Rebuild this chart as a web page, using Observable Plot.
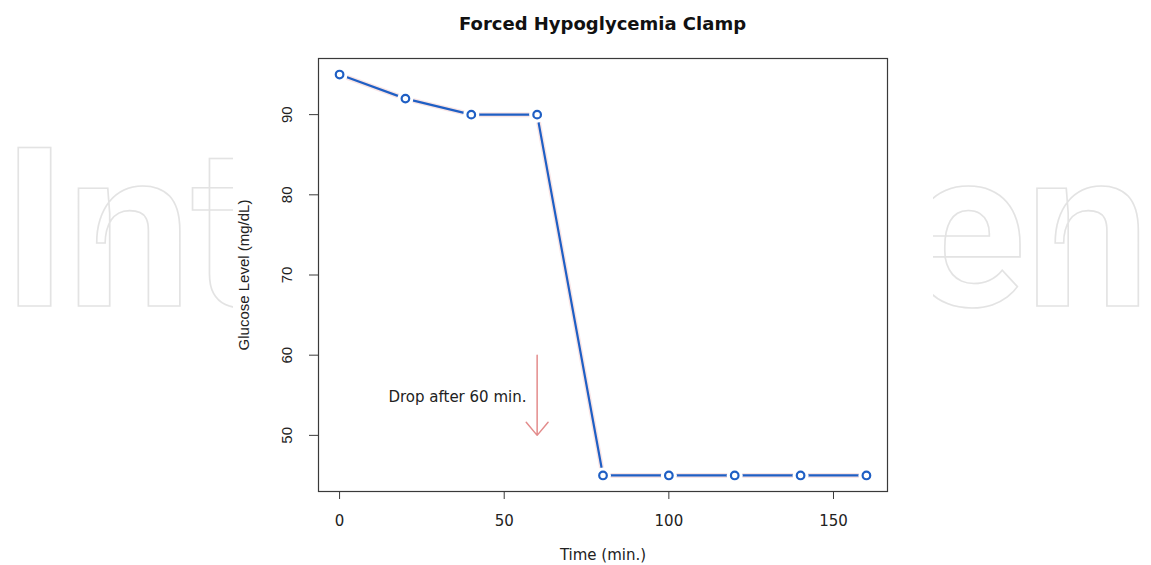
<!DOCTYPE html>
<html>
<head>
<meta charset="utf-8">
<script src="https://cdn.jsdelivr.net/npm/d3@7"></script>
<script src="https://cdn.jsdelivr.net/npm/@observablehq/plot@0.6"></script>
<style>
  html, body { margin: 0; padding: 0; background: #fff; }
  #wrap { position: relative; width: 1151px; height: 565px; overflow: hidden; font-family: "DejaVu Sans", sans-serif; }
  .wm { position: absolute; top: 119px; font-family: Roboto, "Open Sans", sans-serif; font-weight: 700; font-size: 222px; line-height: 222px; color: transparent; -webkit-text-stroke: 1.6px #e3e3e3; white-space: nowrap; }
  #wmLeft { left: 2px; }
  #wmRight { right: 1px; text-align: right; }
  #cover { position: absolute; left: 233px; width: 700px; top: 0; height: 565px; background: #fff; }
  #title { position: absolute; left: 0; width: 1205px; top: 15px; line-height: 18px; text-align: center; font-family: "DejaVu Sans", sans-serif; font-weight: bold; font-size: 18px; color: #111; white-space: nowrap; }
  #chart { position: absolute; left: 0; top: 0; }
</style>
</head>
<body>
<div id="wrap">
  <div class="wm" id="wmLeft">Int</div>
  <div class="wm" id="wmRight">en</div>
  <div id="cover"></div>
  <div id="chart"></div>
  <div id="title">Forced Hypoglycemia Clamp</div>
</div>
<script>
const times = [0, 20, 40, 60, 80, 100, 120, 140, 160];
const glucose = [95, 92, 90, 90, 45, 45, 45, 45, 45];
const xTicks = [0, 50, 100, 150];
const yTicks = [50, 60, 70, 80, 90];
const annotationText = ["Drop after 60 min."];
const annotationX = [35.8];
const annotationY = [54.8];
const arrowX = [60];
const arrowYStart = [60];
const arrowYEnd = [50];

const data = times.map((t, i) => ({time: t, glucose: glucose[i]}));
const arrows = arrowX.map((x, i) => ({x, y1: arrowYStart[i], y2: arrowYEnd[i]}));
const notes = annotationText.map((t, i) => ({text: t, x: annotationX[i], y: annotationY[i]}));

const axisColor = "#3a3a3a";
const wide = '"DejaVu Sans", sans-serif';
const narrow = '"Liberation Sans", Arial, sans-serif';
const lineBlue = "#1f5fc4";

const chart = Plot.plot({
  width: 1151,
  height: 565,
  marginLeft: 318,
  marginRight: 264,
  marginTop: 58,
  marginBottom: 74,
  style: {fontFamily: wide, fontSize: "15px", color: "#222", background: "transparent", overflow: "visible"},
  x: {domain: [-6.4, 166.4]},
  y: {domain: [43, 97]},
  marks: [
    Plot.frame({fill: "white", stroke: "none"}),
    Plot.axisX({ticks: xTicks, tickSize: 8, tickPadding: 16, stroke: axisColor, fontSize: 15, fontFamily: wide, label: "Time (min.)", labelAnchor: "center", labelOffset: 68, labelArrow: "none"}),
    Plot.axisY({ticks: yTicks, tickSize: 9, tickFormat: () => "", stroke: axisColor, fontSize: 15, fontFamily: narrow, label: "Glucose Level (mg/dL)", labelAnchor: "center", labelOffset: 80, labelArrow: "none"}),
    Plot.text(yTicks, {y: d => d, frameAnchor: "left", text: d => String(d), rotate: -90, textAnchor: "middle", lineAnchor: "middle", dx: -31, fontSize: 15, fontFamily: narrow, fill: "#222"}),
    Plot.line(data, {x: "time", y: "glucose", stroke: "#f2c4c4", strokeWidth: 5, strokeOpacity: 0.45}),
    Plot.line(data, {x: "time", y: "glucose", stroke: lineBlue, strokeWidth: 2.2}),
    Plot.dot(data, {x: "time", y: "glucose", r: 8, fill: "white", stroke: "none"}),
    Plot.dot(data, {x: "time", y: "glucose", r: 3.8, fill: "none", stroke: lineBlue, strokeWidth: 2.2}),
    Plot.arrow(arrows, {x: "x", y1: "y1", y2: "y2", stroke: "#e38c8c", strokeWidth: 1.5, headLength: 17, headAngle: 80}),
    Plot.text(notes, {x: "x", y: "y", text: "text", fontSize: 15, fontFamily: wide, fill: "#222"}),
    Plot.frame({stroke: axisColor, strokeWidth: 1.2})
  ]
});
document.getElementById("chart").appendChild(chart);
</script>
</body>
</html>
